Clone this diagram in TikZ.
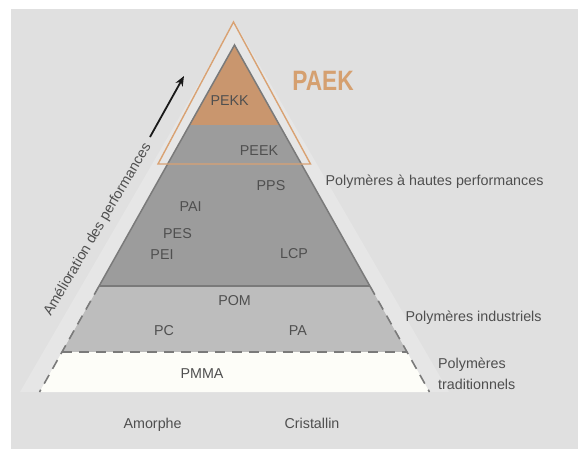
\documentclass[tikz,border=0pt]{standalone}
\usepackage{fontspec}
\setmainfont{Liberation Sans}
\usetikzlibrary{arrows.meta}
\definecolor{panel}{HTML}{E0E0E0}
\definecolor{halo}{HTML}{E6E6E6}
\definecolor{pekk}{HTML}{C9966E}
\definecolor{orangeln}{HTML}{D9A273}
\definecolor{paek}{HTML}{D5A070}
\definecolor{high}{HTML}{9C9C9C}
\definecolor{indus}{HTML}{BDBDBD}
\definecolor{trad}{HTML}{FDFDF8}
\definecolor{edgec}{HTML}{7A7A7A}
\definecolor{txt}{HTML}{4F4F4F}
\begin{document}
\begin{tikzpicture}[x=1pt,y=-1pt,
  lbl/.style={font=\fontsize{14.3}{16}\selectfont, text=txt, inner sep=0pt, anchor=base},
  lblleft/.style={lbl, anchor=base west},
  solidedge/.style={draw=edgec, line width=1.5pt},
  dashedge/.style={draw=edgec, line width=1.6pt, dash pattern=on 10pt off 7pt},
  outline/.style={draw=orangeln, line width=1.4pt, line join=miter}]
\useasboundingbox (0,0) rectangle (578,450);
\fill[white] (0,0) rectangle (578,450);
\fill[panel] (11,9) rectangle (578,449);
% halo along the pyramid sides
\fill[halo] (234.5,22) -- (449,392) -- (20,392) -- cycle;
% layers
\coordinate (apex) at (234.5,45);
\coordinate (kL) at (189.5,125); \coordinate (kR) at (279.5,125);
\coordinate (hL) at (99.1,286);  \coordinate (hR) at (369.9,286);
\coordinate (iL) at (62,352);    \coordinate (iR) at (407,352);
\coordinate (tL) at (39.5,392);  \coordinate (tR) at (429.5,392);
\fill[pekk] (apex) -- (kR) -- (kL) -- cycle;
\fill[high] (kL) -- (kR) -- (hR) -- (hL) -- cycle;
\fill[indus] (hL) -- (hR) -- (iR) -- (iL) -- cycle;
\fill[trad] (iL) -- (iR) -- (tR) -- (tL) -- cycle;
\draw[solidedge, line join=miter] (hL) -- (apex) -- (hR);
\draw[solidedge] (hL) -- (hR);
\draw[dashedge] (hL) -- (tL);
\draw[dashedge] (hR) -- (tR);
\draw[dashedge] (iL) -- (iR);
% orange outline
\coordinate (oA) at (233.5,22); \coordinate (oL) at (158,164); \coordinate (oR) at (310.5,164);
\draw[outline] (oL) -- (oA) -- (oR) -- cycle;
% arrow
\coordinate (arrT) at (150,137); \coordinate (arrH) at (184,76);
\draw[line width=1.8pt, draw=black!90, -{Stealth[length=10pt,width=8pt]}] (arrT) -- (arrH);
% labels
\node[lbl] (PEKK) at (229.7,105) {PEKK};
\node[lbl] (PEEK) at (259,155) {PEEK};
\node[lbl] (PPS) at (271,190) {PPS};
\node[lbl] (PAI) at (190.7,211) {PAI};
\node[lbl] (PES) at (177.5,238) {PES};
\node[lbl] (PEI) at (162,259) {PEI};
\node[lbl] (LCP) at (294,258) {LCP};
\node[lbl] (POM) at (234.6,305) {POM};
\node[lbl] (PC) at (164,335) {PC};
\node[lbl] (PA) at (298,335) {PA};
\node[lbl] (PMMA) at (202,378) {PMMA};
\node[lbl] (amorphe) at (152.6,428) {Amorphe};
\node[lbl] (cristallin) at (312,428) {Cristallin};
\node[lblleft] (hautes) at (325.5,185) {Polymères à hautes performances};
\node[lblleft] (indusl) at (405.5,321) {Polymères industriels};
\node[lblleft] (trad1) at (438,368) {Polymères};
\node[lblleft] (trad2) at (438,389) {traditionnels};
\node[lbl, rotate=59.5] (amel) at (101,231.5) {Amélioration des performances};
\node[inner sep=0pt, anchor=base, text=paek, font=\fontsize{28}{30}\selectfont\bfseries] (PAEK) at (323,90.5) {\scalebox{0.81}[1]{PAEK}};
\end{tikzpicture}
\end{document}
